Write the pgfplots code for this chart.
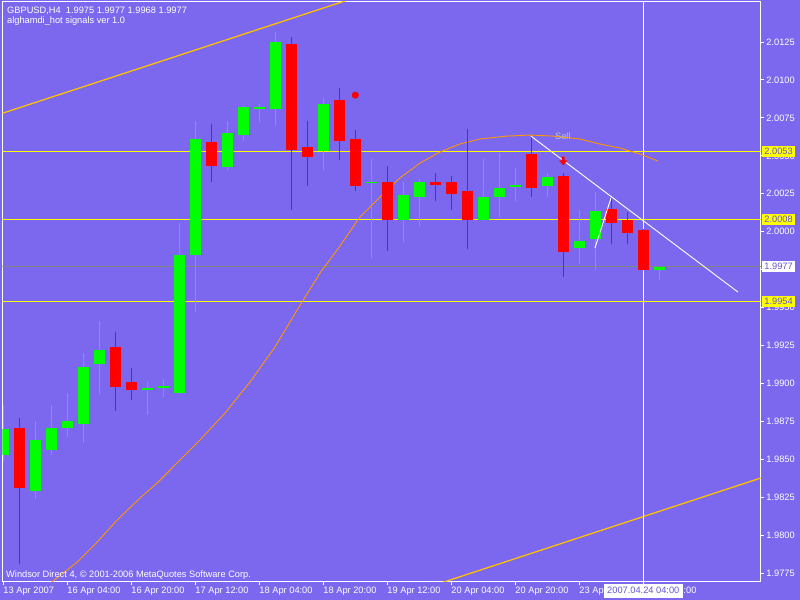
\documentclass[border=0pt]{standalone}
\usepackage{pgfplots}
\pgfplotsset{compat=1.18}
\usepackage{pgfplotstable}
\usepackage{fontspec}
\setmainfont{Liberation Sans}
\definecolor{bg}{RGB}{123,104,238}
\definecolor{bull}{RGB}{0,255,0}
\definecolor{bear}{RGB}{255,0,0}
\definecolor{bearwick}{RGB}{210,10,50}
\definecolor{chan}{RGB}{255,192,0}
\definecolor{ma}{RGB}{255,150,0}
\definecolor{lvl}{RGB}{255,255,0}
\definecolor{pline}{RGB}{125,135,125}
\definecolor{boxtext}{RGB}{100,85,210}
\definecolor{selltext}{RGB}{195,195,200}
\newcommand\fs{\fontsize{9.3}{10}\selectfont}

\pgfdeclareplotmark{darrow}{%
  \pgfpathmoveto{\pgfqpoint{-1.3pt}{4.5pt}}%
  \pgfpathlineto{\pgfqpoint{1.3pt}{4.5pt}}%
  \pgfpathlineto{\pgfqpoint{1.3pt}{0.5pt}}%
  \pgfpathlineto{\pgfqpoint{4pt}{0.5pt}}%
  \pgfpathlineto{\pgfqpoint{0pt}{-4.5pt}}%
  \pgfpathlineto{\pgfqpoint{-4pt}{0.5pt}}%
  \pgfpathlineto{\pgfqpoint{-1.3pt}{0.5pt}}%
  \pgfpathclose
  \pgfusepathqfill}

% bullish candles: bar index, open, high, low, close
\pgfplotstableread{
x o h l c
0 1.9853 1.9886 1.9848 1.9870
2 1.9829 1.9875 1.9824 1.9863
3 1.9856 1.9886 1.9853 1.9871
4 1.9871 1.9894 1.9865 1.9875
5 1.9873 1.9920 1.9861 1.9911
6 1.9913 1.9941 1.9893 1.9922
9 1.9896 1.9901 1.9879 1.9897
10 1.9897 1.9903 1.9891 1.9898
11 1.9894 2.0006 1.9893 1.9985
12 1.9985 2.0073 1.9947 2.0061
14 2.0043 2.0073 2.0041 2.0065
15 2.0064 2.0083 2.0060 2.0082
16 2.0081 2.0084 2.0072 2.0082
17 2.0081 2.0132 2.0070 2.0125
20 2.0053 2.0088 2.0041 2.0084
23 2.0032 2.0048 1.9983 2.0033
25 2.0008 2.0033 1.9993 2.0024
26 2.0023 2.0035 2.0004 2.0033
30 2.0008 2.0048 2.0007 2.0023
31 2.0023 2.0052 2.0010 2.0029
32 2.0030 2.0042 2.0020 2.0031
34 2.0030 2.0039 2.0023 2.0036
36 1.9989 2.0014 1.9979 1.9994
37 1.9995 2.0026 1.9975 2.0014
41 1.9975 1.9977 1.9968 1.9977
}\bulltab

% bearish candles
\pgfplotstableread{
x o h l c
1 1.9871 1.9877 1.9781 1.9831
7 1.9924 1.9934 1.9882 1.9898
8 1.9901 1.9910 1.9889 1.9896
13 2.0059 2.0071 2.0033 2.0043
18 2.0124 2.0128 2.0014 2.0054
19 2.0056 2.0073 2.0030 2.0049
21 2.0087 2.0095 2.0047 2.0060
22 2.0061 2.0067 2.0027 2.0030
24 2.0033 2.0043 1.9987 2.0008
27 2.0033 2.0039 2.0020 2.0031
28 2.0033 2.0037 2.0014 2.0025
29 2.0027 2.0068 1.9989 2.0008
33 2.0051 2.0063 2.0023 2.0029
35 2.0037 2.0039 1.9970 1.9987
38 2.0015 2.0022 1.9992 2.0006
39 2.0008 2.0013 1.9992 1.9999
40 2.0001 2.0002 1.9975 1.9975
}\beartab

% support / resistance levels
\pgfplotstableread{
x y
-1 2.0053
48 2.0053
nan nan
-1 2.0008
48 2.0008
nan nan
-1 1.9954
48 1.9954
}\levels

\begin{document}
\begin{tikzpicture}
\path[use as bounding box] (0,0) rectangle (800bp,600bp);
\fill[bg] (0,0) rectangle (800bp,600bp);
\begin{axis}[
  at={(2.3bp,18bp)}, anchor=south west,
  scale only axis, width=758.4bp, height=580bp,
  xmin=-0.0625, xmax=47.34, ymin=1.97691, ymax=2.01514,
  clip mode=individual,
  axis line style={white, line width=1bp},
  tick style={white, line width=1bp},
  major tick length=3.5bp, tick align=outside,
  xtick pos=left, ytick pos=right, yticklabel pos=right,
  ytick={1.9775,1.98,1.9825,1.985,1.9875,1.99,1.9925,1.995,1.9975,2.0,2.0025,2.005,2.0075,2.01,2.0125},
  /pgf/number format/assume math mode=true,
  yticklabel style={/pgf/number format/fixed, /pgf/number format/fixed zerofill, /pgf/number format/precision=4,
    font=\fs, text=white, anchor=west, inner sep=0pt, xshift=2bp},
  xtick={0,4,8,12,16,20,24,28,32,36,40},
  xticklabels={13 Apr 2007,16 Apr 04:00,16 Apr 20:00,17 Apr 12:00,18 Apr 04:00,18 Apr 20:00,19 Apr 12:00,20 Apr 04:00,20 Apr 20:00,23 Apr 12:00,24 Apr 04:00},
  xticklabel style={font=\fs, text=white, anchor=base west, inner sep=0pt, yshift=-8.5bp},
]
% channel lines
\addplot[draw=chan, line width=1.3bp] coordinates {(-0.5,2.00765) (22,2.01543)};
\addplot[draw=chan, line width=1.3bp] coordinates {(27,1.97672) (48,1.98399)};
% horizontal levels
\addplot[draw=lvl, line width=1.5bp, unbounded coords=jump] table[x=x, y=y] {\levels};
\addplot[draw=pline, line width=0.8bp] coordinates {(-1,1.9977) (48,1.9977)};
% vertical cursor line
\addplot[draw=white, line width=1bp] coordinates {(40,1.97) (40,2.02)};
% orange signal curve
\addplot[draw=ma, line width=0.9bp] coordinates {
(2.5,1.97646) (3.04,1.97691) (4.61,1.97822) (5.86,1.97954) (7.11,1.98099)
(8.54,1.98244) (9.61,1.98343) (10.86,1.98475) (12.29,1.98627) (13.86,1.98805)
(15.42,1.99009) (16.98,1.99240) (18.36,1.99483) (19.79,1.99727) (21.04,1.99905)
(22.29,2.00097) (23.54,2.00228) (24.79,2.00354) (26.04,2.00452) (27.29,2.00525)
(28.54,2.00578) (29.79,2.00611) (31.48,2.00630) (32.92,2.00637) (34.36,2.00630)
(36.04,2.00611) (37.29,2.00578) (38.54,2.00551) (39.79,2.00512) (40.92,2.00466)};
% wicks
\addplot[draw=none, mark=none, forget plot,
  error bars/.cd, y dir=both, y explicit, error mark=none,
  error bar style={draw=bull, line width=1bp}]
  table[x=x, y expr={(\thisrow{h}+\thisrow{l})/2}, y error expr={(\thisrow{h}-\thisrow{l})/2}] {\bulltab};
\addplot[draw=none, mark=none, forget plot,
  error bars/.cd, y dir=both, y explicit, error mark=none,
  error bar style={draw=bearwick, line width=1bp}]
  table[x=x, y expr={(\thisrow{h}+\thisrow{l})/2}, y error expr={(\thisrow{h}-\thisrow{l})/2}] {\beartab};
% bodies
\addplot[draw=none, mark=none, forget plot,
  error bars/.cd, y dir=both, y explicit, error mark=none,
  error bar style={draw=bull, line width=11bp}]
  table[x=x, y expr={(\thisrow{o}+\thisrow{c})/2}, y error expr={(\thisrow{c}-\thisrow{o})/2}] {\bulltab};
\addplot[draw=none, mark=none, forget plot,
  error bars/.cd, y dir=both, y explicit, error mark=none,
  error bar style={draw=bear, line width=11bp}]
  table[x=x, y expr={(\thisrow{o}+\thisrow{c})/2}, y error expr={(\thisrow{o}-\thisrow{c})/2}] {\beartab};
% trend lines
\addplot[draw=white, line width=0.9bp] coordinates {(32.98,2.00630) (45.92,1.99602)};
\addplot[draw=white, line width=0.9bp] coordinates {(36.98,1.99892) (37.99,2.00224)};
% signals
\addplot[only marks, mark=*, mark size=3.3bp, red] coordinates {(22,2.0090)};
\addplot[only marks, mark=darrow, red] coordinates {(35,2.00466)};
\node[anchor=base west, inner sep=0pt, text=selltext, font=\fs] at (axis cs:34.48,2.00609) {Sell};
% price labels
\node[anchor=west, fill=lvl, text=boxtext, font=\fs, inner xsep=2.5bp, inner ysep=0pt, minimum height=10.5bp, xshift=1bp] at (axis cs:47.34,2.0053) {2.0053};
\node[anchor=west, fill=lvl, text=boxtext, font=\fs, inner xsep=2.5bp, inner ysep=0pt, minimum height=10.5bp, xshift=1bp] at (axis cs:47.34,2.0008) {2.0008};
\node[anchor=west, fill=lvl, text=boxtext, font=\fs, inner xsep=2.5bp, inner ysep=0pt, minimum height=10.5bp, xshift=1bp] at (axis cs:47.34,1.9954) {1.9954};
\node[anchor=west, fill=white, text=boxtext, font=\fs, inner xsep=2.5bp, inner ysep=0pt, minimum height=10.5bp, xshift=1bp] at (axis cs:47.34,1.9977) {1.9977};
\node[anchor=north, fill=white, text=boxtext, font=\fs, inner xsep=3.5bp, inner ysep=0pt, minimum height=14bp, yshift=-1.5bp] at (axis cs:40,1.97691) {2007.04.24 04:00};
\end{axis}
\node[anchor=base west, inner sep=0pt, text=white, font=\fs] at (7bp,586.7bp) {GBPUSD,H4\ \ 1.9975 1.9977 1.9968 1.9977};
\node[anchor=base west, inner sep=0pt, text=white, font=\fs] at (7bp,576.7bp) {alghamdi\_hot signals ver 1.0};
\node[anchor=base west, inner sep=0pt, text=white, font=\fs] at (6bp,22.3bp) {Windsor Direct 4, © 2001-2006 MetaQuotes Software Corp.};
\end{tikzpicture}
\end{document}
